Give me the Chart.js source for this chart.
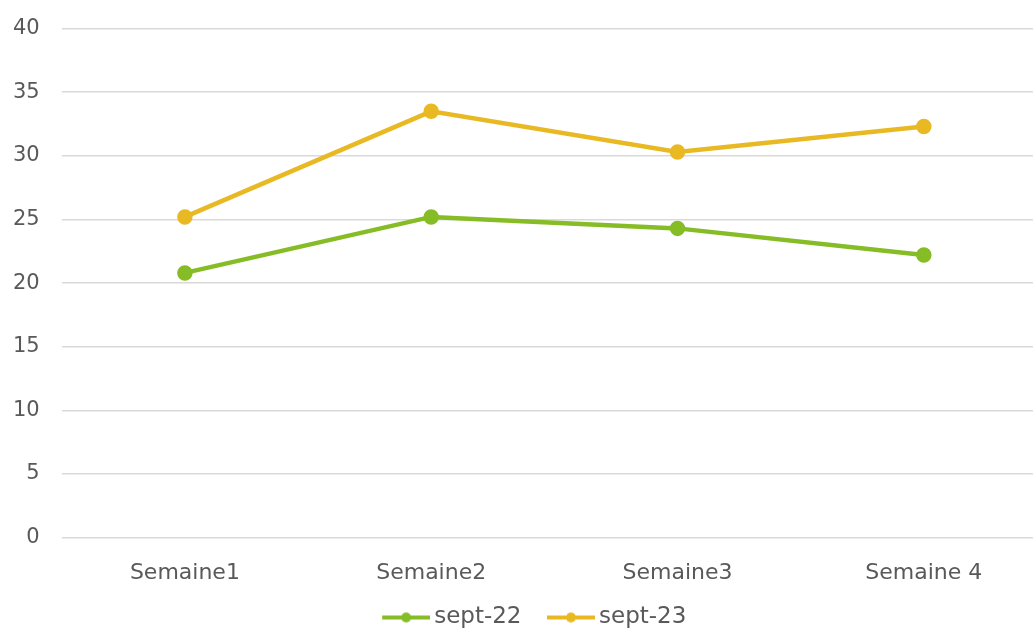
<!DOCTYPE html>
<html>
<head>
<meta charset="utf-8">
<script src="https://cdn.jsdelivr.net/npm/chart.js@4.4.0/dist/chart.umd.min.js"></script>
<style>
  html, body { margin: 0; padding: 0; background: #fff; overflow: hidden; }
  #wrap { width: 1066px; height: 635px; margin-left: -9px; margin-top: -6px; }
</style>
</head>
<body>
<div id="wrap"><canvas id="chart"></canvas></div>
<script>
// data
const weeks = ['Semaine1', 'Semaine2', 'Semaine3', 'Semaine 4'];
const sept22 = [20.8, 25.2, 24.3, 22.2];
const sept23 = [25.2, 33.5, 30.3, 32.3];
const yTicks = [0, 5, 10, 15, 20, 25, 30, 35, 40];

const green = '#86BC25';
const gold = '#E8B923';
const grey = '#595959';

// line-with-dot swatch for the legend (blank margin on the left = gap between items)
function swatch(color) {
  const m = 18;
  const c = document.createElement('canvas');
  c.width = 48 + m; c.height = 12;
  const ctx = c.getContext('2d');
  ctx.strokeStyle = color;
  ctx.lineWidth = 4;
  ctx.beginPath(); ctx.moveTo(m, 6); ctx.lineTo(m + 48, 6); ctx.stroke();
  ctx.fillStyle = color;
  ctx.beginPath(); ctx.arc(m + 24, 6, 5, 0, Math.PI * 2); ctx.fill();
  return c;
}

// squeeze the legend box, then lift its drawing a little
const legendFit = {
  id: 'legendFit',
  beforeLayout(chart) {
    const lg = chart.legend;
    if (!lg || lg._patched) return;
    const fit = lg.fit.bind(lg);
    lg.fit = function () { fit(); this.height -= 27; };
    lg._patched = true;
  },
  afterLayout(chart) {
    const lg = chart.legend;
    if (lg) { lg.top -= 17; lg.left += 5; lg.right += 5; }
  }
};

Chart.defaults.font.family = "'DejaVu Sans', Verdana, sans-serif";
Chart.defaults.color = grey;

new Chart(document.getElementById('chart'), {
  type: 'line',
  data: {
    labels: weeks,
    datasets: [
      { label: 'sept-22', data: sept22, borderColor: green, backgroundColor: green,
        borderWidth: 4.5, pointRadius: 5.5, pointHoverRadius: 5.5, tension: 0 },
      { label: 'sept-23', data: sept23, borderColor: gold, backgroundColor: gold,
        borderWidth: 4.5, pointRadius: 5.5, pointHoverRadius: 5.5, tension: 0 }
    ]
  },
  plugins: [legendFit],
  options: {
    responsive: true,
    maintainAspectRatio: false,
    animation: false,
    layout: { padding: { top: 7, left: 0, right: 0, bottom: 0 } },
    plugins: {
      tooltip: { enabled: false },
      legend: {
        position: 'bottom',
        labels: {
          usePointStyle: true,
          pointStyleWidth: 51,
          font: { size: 23 },
          color: grey,
          padding: 15,
          generateLabels: chart => chart.data.datasets.map((ds, i) => ({
            text: ds.label,
            pointStyle: swatch(ds.borderColor),
            fillStyle: ds.borderColor,
            strokeStyle: ds.borderColor,
            lineWidth: 0,
            fontColor: grey,
            datasetIndex: i,
            hidden: false
          }))
        }
      }
    },
    scales: {
      x: {
        offset: true,
        grid: { display: false, drawTicks: false },
        border: { display: false },
        ticks: { font: { size: 22 }, color: grey, padding: 22 }
      },
      y: {
        min: 0, max: 40,
        afterBuildTicks: axis => { axis.ticks = yTicks.map(v => ({ value: v })); },
        grid: { color: '#D9D9D9', lineWidth: 1.5, drawTicks: false },
        border: { display: false },
        ticks: { font: { size: 21 }, color: grey, padding: 22 }
      }
    }
  }
});
</script>
</body>
</html>
